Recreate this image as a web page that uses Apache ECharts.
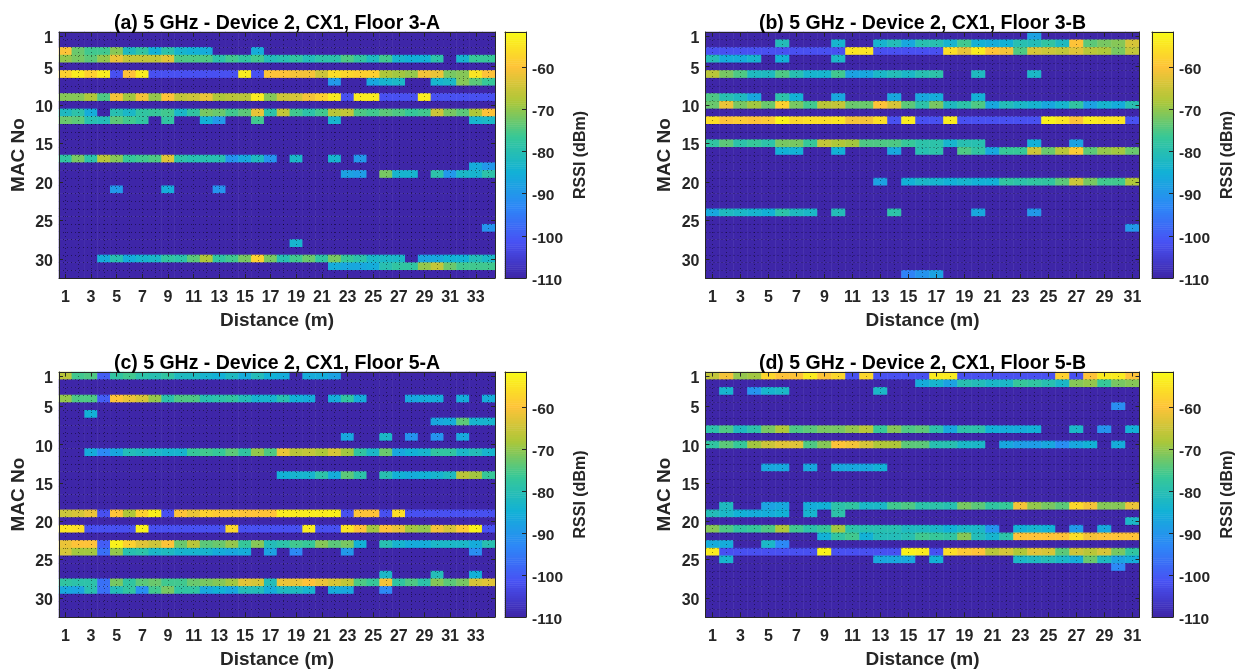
<!DOCTYPE html>
<html><head><meta charset="utf-8">
<style>html,body{margin:0;padding:0;background:#fff}#c{width:1240px;height:672px}</style>
<script src="https://cdn.jsdelivr.net/npm/echarts@6/dist/echarts.min.js"></script>
</head><body><div id="c"></div>
<script>
const D=-110, B=-102;            // D: no signal floor, B: the indigo level
const macLabels=Array.from({length:32},(_,i)=>String(i+1));
const distA=Array.from({length:34},(_,i)=>String(i+1));
const distB=Array.from({length:31},(_,i)=>String(i+1));
const rssiMin=-110, rssiMax=-51.7;
const parula=['#3e26a8','#4852f4','#2d87f7','#12b1d6','#37c897','#abc739','#fec338','#f9fb15'];

// Panel (a) rows; trailing columns left out are at the floor
const a03=[-60,-73,-76,-76,-71,-82,-78,-85,-79,-84,-85,-86,D,D,D,-86];
const a04=[-70,-72,-74,-70,-62,-66,-66,-66,-63,-75,-75,-75,-79,-76,-78,-76,-81,-80,-78,-81,-79,-79,-75,-78,-82,-76,-84,-85,-85,-79,D,-84,-77,-77];
const a06=[-58,-54,-58,-54,B,-60,-54,B,B,B,B,B,B,B,-54,B,-60,-60,-61,-61,-65,-56,-57,-58,-58,-68,-69,-70,-61,-62,-72,-71,-55,-60];
const a07=[D,D,D,D,D,D,D,D,D,D,D,D,D,D,D,D,D,D,D,D,D,-90,D,D,-87,-84,-83,D,D,-84,-83,-71,-74,-77];
const a09=[-71,-71,-68,-75,-61,-69,-61,-70,-60,-66,-65,-62,-68,-67,-67,-54,-71,-65,-64,-61,-58,-54,B,-54,-54,B,B,B,-54,B,B,B,B,B];
const a11=[-82,-79,-86,D,-80,-83,-78,-77,-76,-83,-78,-72,-73,-76,-74,-62,-79,-66,-76,-79,-76,-67,-66,-75,-76,-74,-75,-77,-76,-65,-72,-74,-68,-60];
const a12=[-73,-74,-80,-81,-74,-76,-78,D,-78,D,D,-85,-90,D,D,-76,D,D,D,D,D,-84,D,D,D,D,D,D,D,D,D,D,-84,-83];
const a17=[-78,-72,-79,-67,-71,-77,-76,-75,-63,-79,-80,-80,-80,-91,-87,-82,-91,D,-83,D,D,-84,D,-90];
const a18=[D,D,D,D,D,D,D,D,D,D,D,D,D,D,D,D,D,D,D,D,D,D,D,D,D,D,D,D,D,D,D,D,-86,-90];
const a19=[D,D,D,D,D,D,D,D,D,D,D,D,D,D,D,D,D,D,D,D,D,D,-88,-89,D,-72,-84,-84,D,-79,-90,-83,-84,-79];
const a21=[D,D,D,D,-90,D,D,D,-86,D,D,D,-91];
const a26=[D,D,D,D,D,D,D,D,D,D,D,D,D,D,D,D,D,D,D,D,D,D,D,D,D,D,D,D,D,D,D,D,D,-91];
const a28=[D,D,D,D,D,D,D,D,D,D,D,D,D,D,D,D,D,D,-84];
const a30=[D,D,D,-86,-80,-86,-84,-83,-78,-79,-74,-68,-78,-76,-72,-58,-72,-80,-76,-73,-78,-72,-77,-79,-83,-83,-83,D,-88,-87,-85,-85,-81,-83];
const a31=[D,D,D,D,D,D,D,D,D,D,D,D,D,D,D,D,D,D,D,D,D,-86,-87,-87,-86,-80,-78,-78,-70,-66,-73,-76,-76,-76];

// Panel (b)
const b01=[D,D,D,D,D,D,D,D,D,D,D,D,D,D,D,D,D,D,D,D,D,D,D,-88];
const b02=[D,D,D,D,D,-81,D,D,D,-84,D,D,-84,-81,-87,-80,-80,-84,-76,-85,-86,-85,-80,-81,-78,-82,-60,-74,-72,-71,-64];
const b03=[B,B,B,B,B,B,B,B,B,B,-55,-55,B,B,B,B,B,-56,-62,-54,-60,-61,-75,-64,-65,-66,-63,-67,-68,-72,-66];
const b04=[-81,-86,-86,-84,D,-85,D,D,D,-83];
const b06=[-67,-72,-75,-82,-82,-75,-80,-84,-84,-76,-88,-87,-83,-81,-83,-80,-79,D,D,-82,D,D,D,-83];
const b09=[-75,-80,-82,-87,D,-79,-85,D,D,-87,D,D,D,-87,D,-87,-86,D,D,-85];
const b10=[-73,-62,-72,-69,-73,-58,-72,-76,-67,-66,-73,-73,-60,-64,-74,-79,-72,-82,-79,-75,-87,-81,-83,-84,-87,-84,-78,-88,-84,-86,-80];
const b12=[-56,-60,-59,-60,-59,-53,-57,-56,-56,-55,-61,-61,-56,B,-54,B,B,-54,B,B,B,B,B,B,-53,-55,-60,-54,-55,-55,B];
const b15=[-78,-74,-79,-77,-79,-72,-72,-77,-66,-68,-69,-75,-75,-75,-77,-79,-79,-84,-80,-80,D,D,D,-85,D,D,-88];
const b16=[D,D,D,D,D,-85,-85,D,D,-85,D,D,D,-87,D,-80,-79,D,-75,-78,-87,-77,-77,-65,-73,-67,-59,-74,-70,-69,-73];
const b20=[D,D,D,D,D,D,D,D,D,D,D,D,-88,D,-85,-83,-84,-85,-84,-85,-85,-78,-79,-78,-78,-74,-65,-72,-76,-76,-68];
const b24=[-87,-82,-83,-84,-85,-79,-82,-83,D,-81,D,D,D,-79,D,D,D,D,D,-87,D,D,D,-90];
const b26=[D,D,D,D,D,D,D,D,D,D,D,D,D,D,D,D,D,D,D,D,D,D,D,D,D,D,D,D,D,D,-90];
const b32=[D,D,D,D,D,D,D,D,D,D,D,D,D,D,-94,-91,-88];

// Panel (c)
const c01=[-67,-76,-75,-100,-78,-76,-79,-80,-78,-82,-82,-84,-85,-82,-86,-81,-85,-86,D,-86,-86,-88];
const c04=[-70,-75,-75,-100,-60,-62,-64,-70,-79,-75,-75,-80,-79,-78,-81,-84,-84,-80,-85,-86,D,-86,-78,-86,D,D,D,-87,-86,-86,D,-86,D,-86];
const c06=[D,D,-85];
const c07=[D,D,D,D,D,D,D,D,D,D,D,D,D,D,D,D,D,D,D,D,D,D,D,D,D,D,D,D,D,-87,-86,-74,-84,-84];
const c09=[D,D,D,D,D,D,D,D,D,D,D,D,D,D,D,D,D,D,D,D,D,D,-87,D,D,-83,D,-91,D,-91,D,-87];
const c11=[D,D,-86,-93,-87,-81,-82,-83,-84,-84,-77,-76,-77,-74,-78,-70,-75,-62,-67,-66,-68,-64,-69,-78,-83,-73,-87,-85,-84,-78,-78,-83,-81,-84];
const c14=[D,D,D,D,D,D,D,D,D,D,D,D,D,D,D,D,D,-85,-84,-84,-79,-86,-74,-79,D,-80,-85,-86,-85,-84,-82,-67,-69,-77];
const c19=[-65,-64,-62,B,-60,-68,-58,-53,B,-60,-62,-58,-59,-59,-60,-60,-60,-54,-54,-54,-54,-53,B,-60,-60,B,-56,B,B,B,B,B,B,B];
const c21=[-55,-56,B,B,B,B,-53,B,B,B,B,B,B,-57,B,B,B,B,B,-54,B,B,-55,-60,-69,-60,-62,-69,-70,-61,-64,-59,-53,B];
const c23=[-62,-60,-60,-100,-53,-58,-63,-65,-60,-73,-67,-74,-73,-70,-77,-71,-81,-79,-76,-77,-71,-74,-72,-85,D,-80,-84,-86,-86,-83,-83,-83,-86,-80];
const c24=[-64,-69,-69,-97,-70,-80,-79,-83,-82,-84,-84,-84,-86,-87,-86,D,-88,D,-93,D,D,D,-90,D,D,D,D,D,D,D,D,D,-92];
const c27=[D,D,D,D,D,D,D,D,D,D,D,D,D,D,D,D,D,D,D,D,D,D,D,D,D,-83,D,D,D,-81,D,D,-85];
const c28=[-78,-79,-79,-97,-72,-78,-74,-73,-76,-76,-73,-72,-71,-69,-63,-64,-81,-62,-62,-60,-62,-64,-66,-75,-77,-61,-78,-75,-79,-71,-74,-72,-64,-63];
const c29=[-87,-88,-80,-97,-81,-78,-92,-76,-72,-78,-78,-87,-85,-87,-81,-81,-86,-82,-82,-84,D,-86,-87,D,D,-93];

// Panel (d)
const d01=[-66,-61,-70,-69,-57,-60,-60,-54,-60,-57,B,-57,B,B,B,B,-54,-54,B,B,B,B,B,B,B,-58,B,-60,-54,-54,-60];
const d02=[D,D,D,D,D,D,D,D,D,D,D,D,D,D,D,-86,-84,-88,-80,-81,-83,-83,-77,-78,-80,-83,-71,-70,-77,-72,-71];
const d03=[D,-84,D,-91,-84,-83,D,D,D,D,D,D,-83];
const d05=[D,D,D,D,D,D,D,D,D,D,D,D,D,D,D,D,D,D,D,D,D,D,D,D,D,D,D,D,D,-92];
const d08=[-79,-75,-82,-79,-72,-68,-75,-74,-72,-72,-70,-67,-77,-71,-75,-74,-79,-87,-79,-79,-85,-86,-86,-85,D,D,-83,D,-91,D,-85];
const d10=[-78,-74,-77,-69,-65,-63,-63,-75,-71,-60,-61,-64,-68,-68,-74,-74,-80,-80,-83,-83,D,-87,-89,-89,-87,-92,-87,-85,D,-86];
const d13=[D,D,D,D,-87,-87,D,-87,D,-87,-87,-87,-85];
const d18=[D,-82,D,D,-88,-87,D,-86,-85,-79,-78,-83,-83,-76,-75,-79,-79,-80,-72,-74,-78,-77,-61,-70,-72,-74,-57,-61,-71,-71,-62];
const d19=[-81,-83,-85,-86,-86,-85,D,-84,D,-79];
const d20=[D,D,D,D,D,D,D,D,D,D,D,D,D,D,D,D,D,D,D,D,D,D,D,D,D,D,D,D,D,D,-83];
const d21=[-71,-75,-78,-77,-75,-68,-76,-79,-77,-69,-79,-80,-80,-80,-82,-82,-83,-85,-83,-83,-91,D,-85,-84,-85,D,-90,D,-87];
const d22=[D,D,D,D,D,D,D,D,-85,-78,-76,-85,-81,-81,-80,-76,-77,-78,-71,-81,-84,-79,-60,-60,-60,-60,-56,-61,-60,-60,-60];
const d23=[-86,-86,D,D,-83,-93];
const d24=[-54,B,B,B,B,B,B,B,-53,B,B,B,B,B,-53,-54,B,-56,-59,-60,-67,-64,-68,-63,-64,-74,-65,-67,-64,-72,-78];
const d25=[D,-84,D,D,D,D,D,D,D,D,D,D,-87,-87,-87,D,-85,D,D,D,D,D,-83,-82,-81,-83,-86,-73,-82,-88,-86];
const d26=[D,D,D,D,D,D,D,D,D,D,D,D,D,D,D,D,D,D,D,D,D,D,D,D,D,D,D,D,D,-93];

const panels=[
 {title:'(a) 5 GHz - Device 2, CX1, Floor 3-A',cols:distA,rows:{3:a03,4:a04,6:a06,7:a07,9:a09,11:a11,12:a12,17:a17,18:a18,19:a19,21:a21,26:a26,28:a28,30:a30,31:a31},left:59,width:436,top:32,height:246,barLeft:505},
 {title:'(b) 5 GHz - Device 2, CX1, Floor 3-B',cols:distB,rows:{1:b01,2:b02,3:b03,4:b04,6:b06,9:b09,10:b10,12:b12,15:b15,16:b16,20:b20,24:b24,26:b26,32:b32},left:705.5,width:434,top:32,height:246,barLeft:1152},
 {title:'(c) 5 GHz - Device 2, CX1, Floor 5-A',cols:distA,rows:{1:c01,4:c04,6:c06,7:c07,9:c09,11:c11,14:c14,19:c19,21:c21,23:c23,24:c24,27:c27,28:c28,29:c29},left:59,width:436,top:372,height:245,barLeft:505},
 {title:'(d) 5 GHz - Device 2, CX1, Floor 5-B',cols:distB,rows:{1:d01,2:d02,3:d03,5:d05,8:d08,10:d10,13:d13,18:d18,19:d19,20:d20,21:d21,22:d22,23:d23,24:d24,25:d25,26:d26},left:705.5,width:434,top:372,height:245,barLeft:1152}
];

const ink='#262626', font='"Liberation Sans",Arial,sans-serif';
const levels=[]; for(let v=rssiMin;v<rssiMax;v+=0.5) levels.push(v);
const grid=[],xAxis=[],yAxis=[],series=[],title=[];
const line={show:true,onZero:false,lineStyle:{color:ink,width:1}};
const yPick=i=>i===0||(i+1)%5===0;
const labelStyle={color:ink,fontWeight:'bold',fontSize:16,fontFamily:font};
const nameStyle={color:ink,fontWeight:'bold',fontSize:19,fontFamily:font};
const lowered=(size)=>({t:{color:ink,fontWeight:'bold',fontSize:size,fontFamily:font,padding:[5,0,0,0]}});

panels.forEach((p,k)=>{
  const g=grid.length;
  grid.push({left:p.left,top:p.top,width:p.width,height:p.height,containLabel:false,outerBoundsMode:'none'});
  title.push({text:p.title,left:p.left+p.width/2,top:p.top-18.5,textAlign:'center',padding:0,
    textStyle:{fontSize:19.5,fontWeight:'bold',color:'#000',fontFamily:font}});
  const tickX={show:true,interval:1,alignWithLabel:true,inside:true,length:4,lineStyle:{color:ink}};
  const tickY={show:true,interval:(i)=>yPick(i),alignWithLabel:true,inside:true,length:4,lineStyle:{color:ink}};
  const dotted={type:[1,3],color:'#000',width:1,opacity:.45};
  const xi=xAxis.length, yi=yAxis.length;
  xAxis.push({gridIndex:g,type:'category',position:'bottom',data:p.cols,z:5,axisLine:line,axisTick:tickX,
    axisLabel:{...labelStyle,interval:1,margin:12},name:'Distance (m)',nameLocation:'middle',nameGap:33,nameTextStyle:nameStyle,
    splitLine:{show:true,interval:0,alignWithLabel:true,lineStyle:dotted}});
  xAxis.push({gridIndex:g,type:'category',position:'top',data:p.cols,z:5,axisLine:line,axisTick:tickX,axisLabel:{show:false}});
  yAxis.push({gridIndex:g,type:'category',position:'left',inverse:true,data:macLabels,z:5,axisLine:line,axisTick:tickY,
    axisLabel:{...labelStyle,interval:(i)=>yPick(i),margin:6,formatter:v=>'{t|'+v+'}',rich:lowered(16)},name:'MAC No',nameLocation:'middle',nameGap:31,nameTextStyle:nameStyle,
    splitLine:{show:true,interval:0,lineStyle:dotted}});
  yAxis.push({gridIndex:g,type:'category',position:'right',inverse:true,data:macLabels,z:5,axisLine:line,axisTick:tickY,axisLabel:{show:false}});
  const cells=[];
  p.cols.forEach((_,x)=>macLabels.forEach((_,y)=>{
    const r=p.rows[y+1]; const v=r&&r[x]!==undefined?r[x]:D;
    cells.push([x,y,v]);
  }));
  series.push({type:'heatmap',xAxisIndex:xi,yAxisIndex:yi,data:cells,progressive:0,animation:false,emphasis:{disabled:true}});

  // colour bar
  const g2=grid.length;
  grid.push({left:p.barLeft,top:p.top,width:21,height:p.height,outerBoundsMode:'none'});
  const xb=xAxis.length, yb=yAxis.length;
  xAxis.push({gridIndex:g2,type:'category',data:[''],position:'bottom',z:5,axisLine:line,axisTick:{show:false},axisLabel:{show:false},splitLine:{show:false}});
  xAxis.push({gridIndex:g2,type:'category',data:[''],position:'top',z:5,axisLine:line,axisTick:{show:false},axisLabel:{show:false}});
  yAxis.push({gridIndex:g2,type:'category',data:levels.map(String),position:'left',z:5,axisLine:line,axisTick:{show:false},axisLabel:{show:false},splitLine:{show:false}});
  yAxis.push({gridIndex:g2,type:'value',position:'right',min:rssiMin,max:rssiMax,interval:10,z:5,axisLine:line,
    axisTick:{show:true,inside:true,length:4,lineStyle:{color:ink}},splitLine:{show:false},
    axisLabel:{...labelStyle,fontSize:15.5,margin:6,showMaxLabel:false,formatter:v=>'{t|'+Math.round(v)+'}',rich:lowered(15.5)},
    name:'RSSI (dBm)',nameLocation:'middle',nameGap:47,nameRotate:90,nameTextStyle:{...nameStyle,fontSize:16}});
  series.push({type:'heatmap',xAxisIndex:xb,yAxisIndex:yb,data:levels.map((v,i)=>[0,i,v]),progressive:0,animation:false,emphasis:{disabled:true}});
});

const chart=echarts.init(document.getElementById('c'),null,{renderer:'canvas'});
chart.setOption({animation:false,backgroundColor:'#fff',title,grid,xAxis,yAxis,series,
  visualMap:{show:false,type:'continuous',min:rssiMin,max:rssiMax,dimension:2,seriesIndex:series.map((_,i)=>i),inRange:{color:parula}}});
</script></body></html>
